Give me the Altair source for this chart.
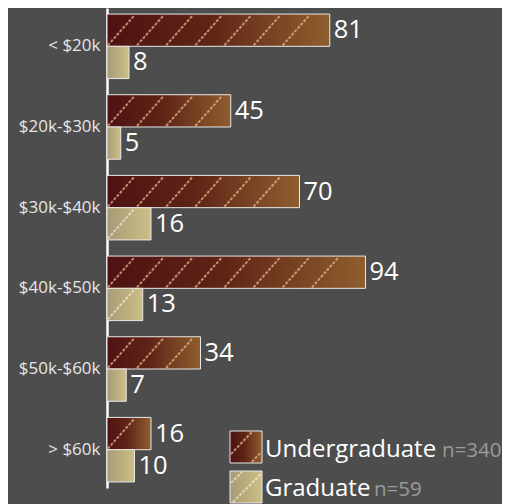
import altair as alt
import pandas as pd

categories = ["< $20k", "$20k-$30k", "$30k-$40k", "$40k-$50k", "$50k-$60k", "> $60k"]
undergrad = [81, 45, 70, 94, 34, 16]
grad = [8, 5, 16, 13, 7, 10]
levels = ["Undergraduate", "Graduate"]
level_n = ["n=340", "n=59"]

rows = []
for c, u, g in zip(categories, undergrad, grad):
    rows.append({"bracket": c, "level": levels[0], "count": u})
    rows.append({"bracket": c, "level": levels[1], "count": g})
df = pd.DataFrame(rows)
leg = pd.DataFrame({"level": levels, "n": level_n})

FONT = "Open Sans"
BG = "#4d4d4d"
HATCH_U = "rgba(240,190,150,0.7)"
HATCH_G = "rgba(255,248,225,0.6)"

ug_grad = alt.LinearGradient(gradient="linear", x1=0, x2=1, y1=0, y2=0,
    stops=[alt.GradientStop(color="#4e1212", offset=0),
           alt.GradientStop(color="#5e2416", offset=0.45),
           alt.GradientStop(color="#8f5e2e", offset=1)])
gr_grad = alt.LinearGradient(gradient="linear", x1=0, x2=1, y1=0, y2=0,
    stops=[alt.GradientStop(color="#a69b77", offset=0),
           alt.GradientStop(color="#cdbf86", offset=1)])

yscale = alt.Scale(paddingInner=0.2, paddingOuter=0.075)
xscale = alt.Scale(domain=[0, 100])

base = alt.Chart(df).encode(
    y=alt.Y("bracket:N", sort=categories, title=None, scale=yscale,
            axis=alt.Axis(ticks=False, labelPadding=7, labelFontSize=17,
                          labelColor="#e6e6e6", labelFont=FONT,
                          domainColor="#ffffff", domainWidth=2.5)),
    yOffset=alt.YOffset("level:N", sort=levels,
                        scale=alt.Scale(domain=levels, paddingInner=0, paddingOuter=0)),
    x=alt.X("count:Q", scale=xscale, axis=None),
)

bars_u = base.transform_filter(alt.datum.level == levels[0]).mark_bar(
    fill=ug_grad, stroke="#e8e8e8", strokeWidth=1, cornerRadius=0)
bars_g = base.transform_filter(alt.datum.level == levels[1]).mark_bar(
    fill=gr_grad, stroke="#e8e8e8", strokeWidth=1, cornerRadius=0)
labels = base.mark_text(align="left", baseline="middle", dx=4, fontSize=25.5,
                        font=FONT, color="#ffffff").encode(text="count:Q")

# diagonal hatching inside the bars
hatch_base = alt.Chart(df).transform_calculate(
    ks="sequence(0.3, datum.count, 10.6)"
).transform_flatten(["ks"]).transform_calculate(
    ke="datum.ks + 9.7"
).transform_filter("datum.ke <= datum.count - 0.3")

hatch_enc = dict(
    x=alt.X("ks:Q", scale=xscale, axis=None),
    x2=alt.X2("ke:Q"),
    y=alt.Y("bracket:N", sort=categories, scale=yscale, bandPosition=0.5, title=None),
    y2=alt.Y2("bracket:N", bandPosition=0.5),
)
hatch_u = hatch_base.transform_filter(alt.datum.level == levels[0]).mark_rule(
    stroke=HATCH_U, strokeWidth=2, strokeDash=[3, 1.5], yOffset=-1, y2Offset=-31
).encode(**hatch_enc)
hatch_g = hatch_base.transform_filter(alt.datum.level == levels[1]).mark_rule(
    stroke=HATCH_G, strokeWidth=2, strokeDash=[3, 1.5], yOffset=31, y2Offset=1
).encode(**hatch_enc)

lb = alt.Chart(leg)
lu = lb.transform_filter(alt.datum.level == levels[0])
lg = lb.transform_filter(alt.datum.level == levels[1])
sym_u = lu.mark_rect(fill=ug_grad, stroke="#e8e8e8", strokeWidth=1).encode(
    x=alt.value(123), x2=alt.value(155), y=alt.value(423), y2=alt.value(455))
sym_g = lg.mark_rect(fill=gr_grad, stroke="#e8e8e8", strokeWidth=1).encode(
    x=alt.value(123), x2=alt.value(155), y=alt.value(463), y2=alt.value(495))
sh_u = lu.mark_rule(stroke=HATCH_U, strokeWidth=2, strokeDash=[3, 1.5]).encode(
    x=alt.value(124), x2=alt.value(145), y=alt.value(446), y2=alt.value(424))
sh_u2 = lu.mark_rule(stroke=HATCH_U, strokeWidth=2, strokeDash=[3, 1.5]).encode(
    x=alt.value(145), x2=alt.value(154), y=alt.value(454), y2=alt.value(444))
sh_g = lg.mark_rule(stroke=HATCH_G, strokeWidth=2, strokeDash=[3, 1.5]).encode(
    x=alt.value(124), x2=alt.value(135), y=alt.value(475), y2=alt.value(464))
sh_g2 = lg.mark_rule(stroke=HATCH_G, strokeWidth=2, strokeDash=[3, 1.5]).encode(
    x=alt.value(126), x2=alt.value(154), y=alt.value(494), y2=alt.value(466))
txt_u = lu.mark_text(align="left", baseline="alphabetic", fontSize=24, font=FONT,
                     color="#ffffff").encode(x=alt.value(158), y=alt.value(449), text="level:N")
txt_g = lg.mark_text(align="left", baseline="alphabetic", fontSize=24, font=FONT,
                     color="#ffffff").encode(x=alt.value(158), y=alt.value(488), text="level:N")
n_u = lu.mark_text(align="left", baseline="alphabetic", fontSize=20.5, font=FONT,
                   color="#9a9a9a").encode(x=alt.value(335), y=alt.value(449), text="n:N")
n_g = lg.mark_text(align="left", baseline="alphabetic", fontSize=20.5, font=FONT,
                   color="#9a9a9a").encode(x=alt.value(267), y=alt.value(488), text="n:N")

chart = alt.layer(bars_u, bars_g, hatch_u, hatch_g, labels,
                  sym_u, sym_g, sh_u, sh_u2, sh_g, sh_g2,
                  txt_u, txt_g, n_u, n_g).properties(
    width=275, height=480, autosize="none",
    padding={"left": 99, "top": 0, "right": 120, "bottom": 20},
    background=BG,
).configure_view(stroke=None)

chart.save("out.html", embed_options={"renderer": "svg", "actions": False})
